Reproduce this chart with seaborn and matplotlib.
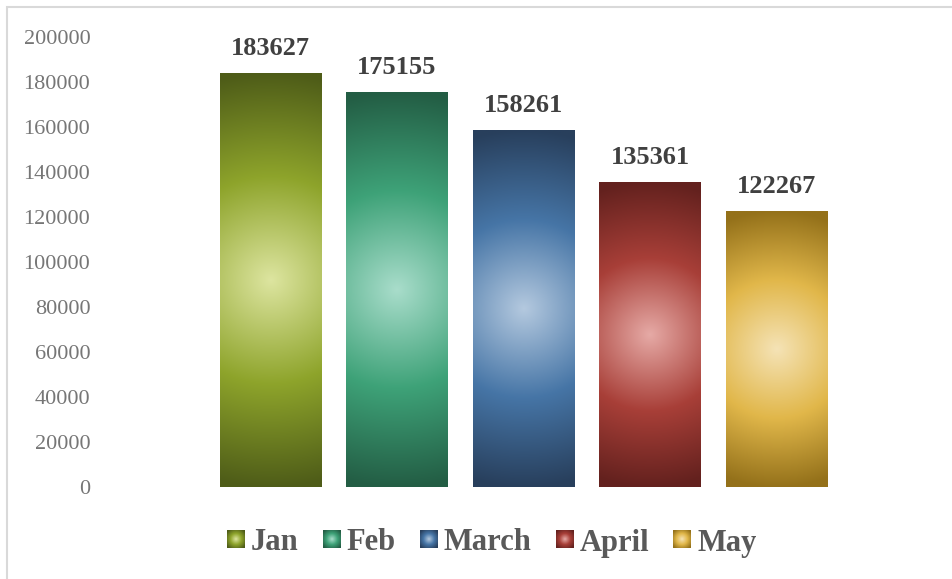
import numpy as np
import pandas as pd
import matplotlib
matplotlib.use("Agg")
import matplotlib.pyplot as plt
import seaborn as sns
from matplotlib.colors import to_rgb
from matplotlib.patches import Patch, Rectangle
from matplotlib.legend_handler import HandlerBase
from matplotlib.image import BboxImage
from matplotlib.transforms import Bbox, TransformedBbox

# ---- data ----
months = ["Jan", "Feb", "March", "April", "May"]
values = [183627, 175155, 158261, 135361, 122267]
y_ticks = [0, 20000, 40000, 60000, 80000, 100000, 120000, 140000, 160000, 180000, 200000]

# gradient stops per month: (center, mid, edge)
center_colors = ["#dde5a0", "#a9ddcb", "#b4c9df", "#e6aaa6", "#f5e3b6"]
mid_colors = ["#8ea42b", "#3ea278", "#4675a6", "#a83f38", "#e1b74a"]
edge_colors = ["#4e5c18", "#235d44", "#283f5c", "#63211e", "#94711a"]

df = pd.DataFrame({"month": months, "value": values})

sns.set_theme(style="white")
plt.rcParams["font.family"] = ["Liberation Serif", "DejaVu Serif"]

fig = plt.figure(figsize=(9.53, 5.79), dpi=100)
ax = fig.add_axes([207 / 953, 1 - 487 / 579, 633 / 953, 450 / 579])

sns.barplot(data=df, x="month", y="value", hue="month", palette=mid_colors,
            width=0.8, legend=False, ax=ax, saturation=1)

ax.set_xlim(-0.5, len(months) - 0.5)
ax.set_ylim(0, 200000)
ax.set_yticks(y_ticks)
ax.set_yticklabels([str(t) for t in y_ticks])
ax.tick_params(axis="y", length=0, pad=84, labelsize=16, labelcolor="#767676")
ax.tick_params(axis="x", length=0, labelbottom=False)
ax.set_xlabel("")
ax.set_ylabel("")
for s in ax.spines.values():
    s.set_visible(False)
ax.grid(False)


def radial(nx, ny, sx, sy, radius, c0, c1, c2):
    """Radial gradient, sx/sy pixel sizes, radius in pixels."""
    xs = (np.arange(nx) + 0.5) / nx * sx - sx / 2
    ys = (np.arange(ny) + 0.5) / ny * sy - sy / 2
    X, Y = np.meshgrid(xs, ys)
    r = np.clip(np.sqrt(X ** 2 + Y ** 2) / radius, 0, 1)
    a, b, c = (np.array(to_rgb(k)) for k in (c0, c1, c2))
    t1 = np.clip(r / 0.5, 0, 1)[..., None]
    t2 = np.clip((r - 0.5) / 0.5, 0, 1)[..., None]
    img = np.where(r[..., None] <= 0.5, a + (b - a) * t1, b + (c - b) * t2)
    return img


# apply gradient fill on each bar
for i, patch in enumerate(ax.patches):
    x0, y0 = patch.get_x(), patch.get_y()
    w, h = patch.get_width(), patch.get_height()
    (px0, py0) = ax.transData.transform((x0, y0))
    (px1, py1) = ax.transData.transform((x0 + w, y0 + h))
    sx, sy = abs(px1 - px0), abs(py1 - py0)
    nx = 120
    ny = max(2, int(round(nx * sy / sx)))
    img = radial(nx, ny, sx, sy, sy / 2, center_colors[i], mid_colors[i], edge_colors[i])
    ax.imshow(img, extent=(x0, x0 + w, y0, y0 + h), origin="lower",
              aspect="auto", interpolation="bilinear", zorder=patch.get_zorder() + 0.1)
    patch.set_facecolor("none")
    patch.set_edgecolor("none")

ax.set_xlim(-0.5, len(months) - 0.5)
ax.set_ylim(0, 200000)

# data labels
for i, v in enumerate(values):
    ax.annotate(str(v), (i, v), xytext=(0, 10), textcoords="offset points",
                ha="center", va="bottom", fontsize=19, fontweight="bold",
                color="#404040")


class GradHandler(HandlerBase):
    def create_artists(self, legend, orig_handle, xdescent, ydescent,
                       width, height, fontsize, trans):
        i = months.index(orig_handle.get_label())
        size = min(width, height)
        x0 = -xdescent + (width - size) / 2
        y0 = -ydescent + (height - size) / 2
        bb = TransformedBbox(Bbox.from_bounds(x0, y0, size, size), trans)
        im = BboxImage(bb, interpolation="bilinear")
        im.set_data(radial(40, 40, 1, 1, 0.62, center_colors[i], mid_colors[i], edge_colors[i]))
        return [im]


handles = [Patch(label=m) for m in months]
leg = ax.legend(handles=handles, loc="center", bbox_to_anchor=(0.516, 1 - 543 / 579),
                bbox_transform=fig.transFigure, ncol=5, frameon=False,
                handler_map={Patch: GradHandler()},
                handlelength=0.57, handleheight=0.57, handletextpad=0.2,
                columnspacing=0.8,
                prop={"size": 22, "weight": "bold"})
for t in leg.get_texts():
    t.set_color("#595959")

# outer border (chart area)
fig.patches.append(Rectangle((6.5 / 953, -0.1), 1.2, 1 - 7 / 579 + 0.1,
                             transform=fig.transFigure, fill=False,
                             edgecolor="#d9d9d9", linewidth=1.5, zorder=0))

fig.savefig("out.png", dpi=100)
